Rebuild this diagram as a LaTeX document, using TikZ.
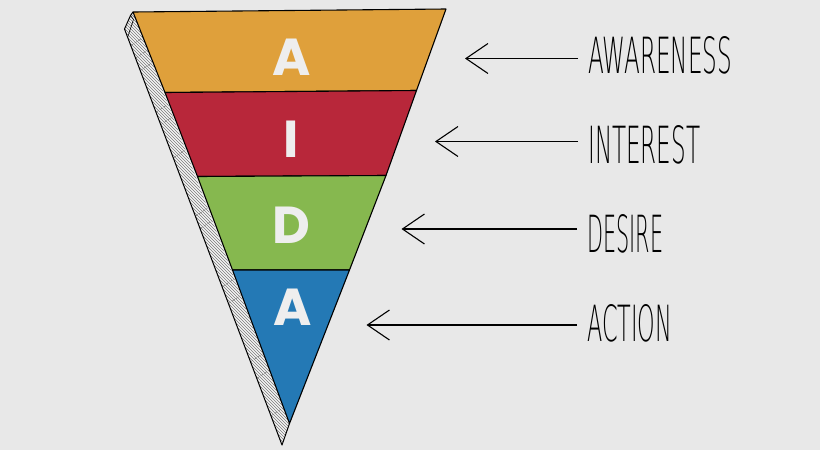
\documentclass[tikz,border=0pt]{standalone}
\usepackage{fontspec}
\setmainfont{DejaVu Sans}
\newfontfamily\letterfont{Poppins}
\newfontfamily\thinfont{DejaVuSans-ExtraLight.ttf}
\usetikzlibrary{arrows.meta,patterns,calc}
\definecolor{bgc}{HTML}{E8E8E8}
\definecolor{orangec}{HTML}{DFA03B}
\definecolor{redc}{HTML}{B8273A}
\definecolor{greenc}{HTML}{86B84F}
\definecolor{bluec}{HTML}{2479B5}
\definecolor{letc}{HTML}{EEEEEE}
\definecolor{hatchc}{HTML}{7A7A7A}
\tikzset{
  band/.style={draw=black, line width=1.1pt, line join=round},
  letter/.style={text=letc, inner sep=0pt, font=\letterfont\bfseries\fontsize{52}{52}\selectfont},
  lab/.style={inner sep=0pt, anchor=west, text=black, font=\thinfont},
  arr/.style={line width=1.6pt, -{Straight Barb[length=22pt,width=30pt,line width=1.1pt]}, shorten <=10pt},
}
\begin{document}
\begin{tikzpicture}[x=1pt,y=-1pt]
\useasboundingbox (0,0) rectangle (820,450);
\fill[bgc] (0,0) rectangle (820,450);
% corners
\coordinate (tl) at (133,12);
\coordinate (tr) at (446,9);
\coordinate (l1) at (165,92.5);
\coordinate (r1) at (416.5,90.5);
\coordinate (l2) at (197.5,176.5);
\coordinate (r2) at (386,175.5);
\coordinate (l3) at (232.5,270);
\coordinate (r3) at (349.5,270);
\coordinate (tip) at (289.5,423.5);
\coordinate (s1) at (130.5,15.5);
\coordinate (s2) at (124.5,29);
\coordinate (stip) at (282,445);
% side face
\fill[white!92!gray] (tl) -- (s1) -- (s2) -- (stip) -- (tip) -- cycle;
\begin{scope}
\clip (tl) -- (s1) -- (s2) -- (stip) -- (tip) -- cycle;
\fill[pattern=north west lines, pattern color=hatchc] (tl) -- (s1) -- (s2) -- (stip) -- (tip) -- cycle;
\foreach \t in {0.04,0.07,0.10,0.2,0.23,0.31,0.45,0.48,0.62,0.66,0.8,0.84,0.93} {
  \draw[hatchc, line width=0.5pt, dash pattern=on 3pt off 1.5pt]
    ($(s2)!\t!(stip)$) -- ++(12,-8);
}
\end{scope}
\draw[line width=1pt, line join=round] (tl) -- (s1) -- (s2) -- (stip) -- (tip);
\draw[line width=0.6pt] (s1) -- ++(3,4) -- ($(s2)!0.02!(stip)$);
% bands
\filldraw[band, fill=orangec] (tl) -- (tr) -- (r1) -- (l1) -- cycle;
\filldraw[band, fill=redc] (l1) -- (r1) -- (r2) -- (l2) -- cycle;
\filldraw[band, fill=greenc] (l2) -- (r2) -- (r3) -- (l3) -- cycle;
\filldraw[band, fill=bluec] (l3) -- (r3) -- (tip) -- cycle;
% letters
\node[letter] (la) at (291.5,57) {A};
\node[letter] (li) at (291.5,139) {I};
\node[letter] (ld) at (291.5,225) {D};
\node[letter] (lb) at (292.5,307) {A};
% labels
\node[lab] (aw) at (588,55) {\resizebox{144pt}{37pt}{AWARENESS}};
\node[lab] (in) at (588,145) {\resizebox{112pt}{38pt}{INTEREST}};
\node[lab] (de) at (587,234) {\resizebox{76pt}{38pt}{DESIRE}};
\node[lab] (ac) at (587,323) {\resizebox{85pt}{37pt}{ACTION}};
% arrow tips
\coordinate (t1) at (465,58.5);
\coordinate (t2) at (435,141.5);
\coordinate (t3) at (401.5,229);
\coordinate (t4) at (366.5,325);
\draw[arr] (aw.west |- t1) -- (t1);
\draw[arr] (in.west |- t2) -- (t2);
\draw[arr] (de.west |- t3) -- (t3);
\draw[arr] (ac.west |- t4) -- (t4);
\end{tikzpicture}
\end{document}
